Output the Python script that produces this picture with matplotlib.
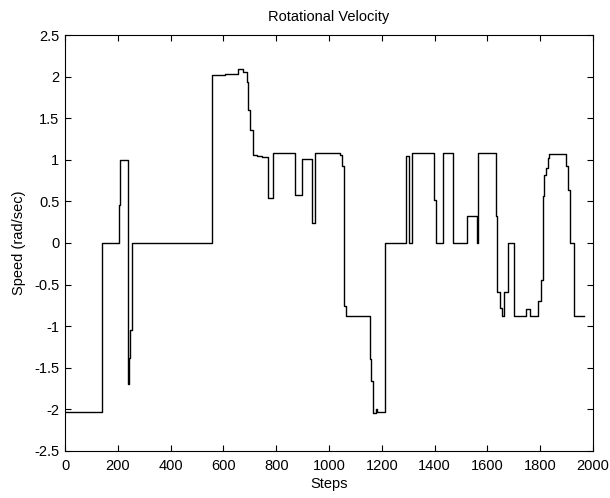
import matplotlib
matplotlib.use("Agg")
import matplotlib.pyplot as plt

plt.rcParams['font.family'] = ['Liberation Sans', 'DejaVu Sans']
plt.rcParams['axes.unicode_minus'] = False

# step where the value changes, and the value held from that step on
steps = [0, 139, 206, 208, 210, 237, 242, 246, 254, 555, 606, 656, 675, 688,
         694, 701, 713, 727, 746, 767, 786, 871, 897, 935, 947, 1042, 1048,
         1055, 1058, 1064, 1156, 1160, 1166, 1168, 1177, 1182, 1212, 1292,
         1303, 1313, 1398, 1404, 1431, 1471, 1522, 1560, 1563, 1633, 1638,
         1648, 1655, 1661, 1679, 1701, 1747, 1762, 1793, 1803, 1810, 1816,
         1823, 1828, 1834, 1899, 1907, 1914, 1929, 1967]
speed = [-2.03, 0.0, 0.46, 0.92, 1.0, -1.70, -1.38, -1.05, 0.0, 2.02, 2.03,
         2.09, 2.06, 1.94, 1.60, 1.36, 1.06, 1.04, 1.03, 0.54, 1.08, 0.58,
         1.01, 0.24, 1.08, 1.06, 0.92, 0.70, -0.76, -0.88, -1.40, -1.66,
         -1.80, -2.04, -1.99, -2.03, 0.0, 1.05, 0.0, 1.08, 0.52, 0.0, 1.08,
         0.0, 0.32, 0.0, 1.08, 0.32, -0.59, -0.78, -0.88, -0.59, 0.0, -0.88,
         -0.79, -0.88, -0.70, -0.44, 0.56, 0.82, 0.90, 1.02, 1.07, 0.92,
         0.64, 0.0, -0.88, -0.88]

xticks = list(range(0, 2001, 200))
yticks = [-2.5, -2, -1.5, -1, -0.5, 0, 0.5, 1, 1.5, 2, 2.5]
ytick_labels = ['-2.5', '-2', '-1.5', '-1', '-0.5', '0', '0.5', '1', '1.5', '2', '2.5']

fig = plt.figure(figsize=(6.1, 4.98), dpi=100)
ax = fig.add_axes([0.1066, 0.0944, 0.8656, 0.8353])

ax.plot(steps, speed, color='black', linewidth=1.0, drawstyle='steps-post')

ax.set_xlim(0, 2000)
ax.set_ylim(-2.5, 2.5)
ax.set_xticks(xticks)
ax.set_yticks(yticks)
ax.set_yticklabels(ytick_labels)
ax.tick_params(direction='in', length=4, width=0.8, top=True, right=True,
               labelsize=10.5)
ax.tick_params(axis='x', pad=6)
ax.tick_params(axis='y', pad=4)
for sp in ax.spines.values():
    sp.set_linewidth(0.8)

ax.set_title('Rotational Velocity', fontsize=10.5, pad=10)
ax.set_xlabel('Steps', fontsize=10.5, labelpad=3)
ax.set_ylabel('Speed (rad/sec)', fontsize=10.5, labelpad=6)

fig.savefig('out.png', dpi=100)
